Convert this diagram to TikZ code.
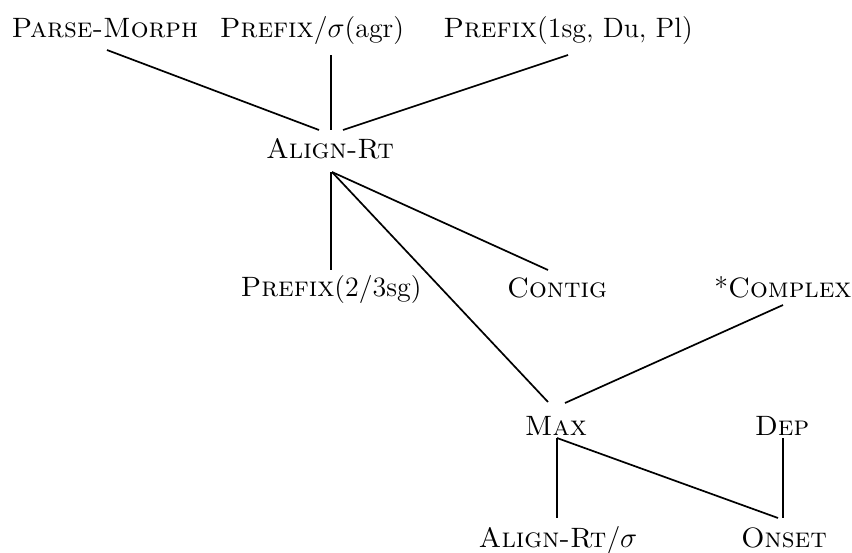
\documentclass[tikz,border=0pt]{standalone}
\usetikzlibrary{calc}
\begin{document}
\begin{tikzpicture}[x=0.5pt,y=-0.5pt,
  lbl/.style={anchor=base,inner sep=0pt,font=\fontsize{14}{16}\selectfont},
  edge/.style={line width=0.85pt,black}]
\useasboundingbox[fill=white] (0,0) rectangle (852,552);
% nodes
\node[lbl] (PM)  at (105,37)  {\textsc{Parse-Morph}};
\node[lbl] (PA)  at (312,37)  {\textsc{Prefix}/$\sigma$(agr)};
\node[lbl] (PB)  at (568,37)  {\textsc{Prefix}(1sg, Du, Pl)};
\node[lbl] (AR)  at (330,158) {\textsc{Align-Rt}};
\node[lbl] (P23) at (331,296) {\textsc{Prefix}(2/3sg)};
\node[lbl] (CO)  at (557,297) {\textsc{Contig}};
\node[lbl] (CX)  at (783,297) {*\textsc{Complex}};
\node[lbl] (MX)  at (556,435) {\textsc{Max}};
\node[lbl] (DP)  at (782,435) {\textsc{Dep}};
\node[lbl] (ARS) at (558,547) {\textsc{Align-Rt}/$\sigma$};
\node[lbl] (ON)  at (784,547) {\textsc{Onset}};
% connectors
\draw[edge] ($(PM.base)+(2,13)$)  -- ($(AR.base)+(-11,-28)$);
\draw[edge] ($(PA.base)+(19,18)$) -- ($(AR.base)+(1,-28)$);
\draw[edge] ($(PB.base)+(0,18)$)  -- ($(AR.base)+(13,-28)$);
\draw[edge] ($(AR.base)+(1,14)$)  -- ($(P23.base)+(0,-26)$);
\draw[edge] ($(AR.base)+(2,14)$)  -- ($(CO.base)+(-9,-27)$);
\draw[edge] ($(AR.base)+(2,14)$)  -- ($(MX.base)+(-8,-33)$);
\draw[edge] ($(CX.base)+(0,8)$)   -- ($(MX.base)+(9,-32)$);
\draw[edge] ($(MX.base)+(1,3)$)   -- ($(ARS.base)+(-1,-29)$);
\draw[edge] ($(MX.base)+(1,3)$)   -- ($(ON.base)+(-6,-29)$);
\draw[edge] ($(DP.base)+(1,3)$)   -- ($(ON.base)+(-1,-29)$);
\end{tikzpicture}
\end{document}
